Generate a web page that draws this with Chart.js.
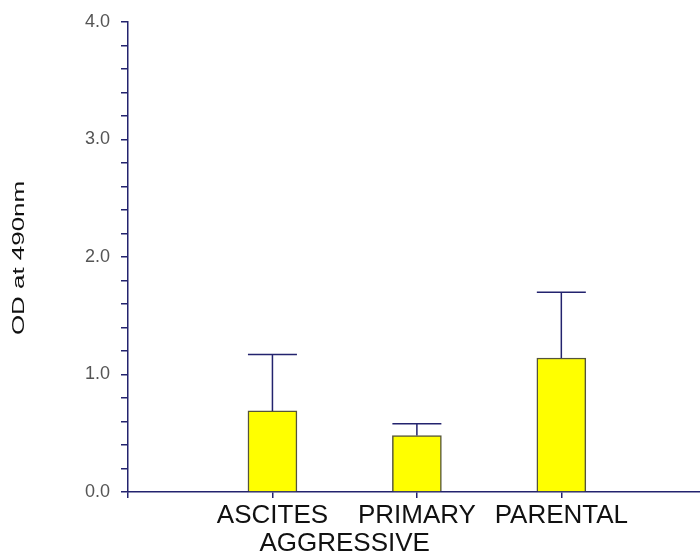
<!DOCTYPE html>
<html>
<head>
<meta charset="utf-8">
<script src="https://cdn.jsdelivr.net/npm/chart.js@4/dist/chart.umd.min.js"></script>
<style>
  html, body { margin: 0; padding: 0; background: #fff; }
  #wrap { width: 700px; height: 557px; }
</style>
</head>
<body>
<div id="wrap"><canvas id="chart" width="700" height="557"></canvas></div>
<script>
// ---- data ----
const CATEGORIES = ['ASCITES', 'PRIMARY', 'PARENTAL'];
const GROUP_LABEL = 'AGGRESSIVE';          // spans ASCITES + PRIMARY
const MEANS = [0.69, 0.48, 1.14];
const ERRORS = [0.48, 0.10, 0.56];         // upper error (SD)
const Y_TITLE = 'OD at 490nm';

const NAVY = '#23236e';
const FONT = "'Liberation Sans', Arial, sans-serif";

const points = CATEGORIES.map((c, i) => ({ x: i + 1, y: MEANS[i] }));

// upper error bars with cap as wide as the bar
const errorBars = {
    id: 'errorBars',
    afterDatasetsDraw(chart) {
        const { ctx, scales: { y } } = chart;
        const meta = chart.getDatasetMeta(0);
        ctx.save();
        ctx.strokeStyle = NAVY;
        ctx.lineWidth = 1.5;
        meta.data.forEach((bar, i) => {
            const top = y.getPixelForValue(MEANS[i] + ERRORS[i]);
            const half = bar.width / 2;
            ctx.beginPath();
            ctx.moveTo(bar.x, bar.y);
            ctx.lineTo(bar.x, top);
            ctx.moveTo(bar.x - half, top);
            ctx.lineTo(bar.x + half, top);
            ctx.stroke();
        });
        ctx.restore();
    }
};

// rotated, stretched y title and the second-line group label
const extraText = {
    id: 'extraText',
    afterDraw(chart) {
        const { ctx, scales: { x }, chartArea } = chart;
        ctx.save();
        ctx.fillStyle = '#111';
        ctx.font = '16px ' + FONT;
        ctx.textAlign = 'center';
        ctx.textBaseline = 'middle';
        ctx.translate(20, 258);
        ctx.rotate(-Math.PI / 2);
        ctx.scale(1.62, 1);
        ctx.fillText(Y_TITLE, 0, 0);
        ctx.restore();

        ctx.save();
        ctx.fillStyle = '#111';
        ctx.font = '26px ' + FONT;
        ctx.textAlign = 'center';
        ctx.textBaseline = 'alphabetic';
        ctx.fillText(GROUP_LABEL, x.getPixelForValue(1.5), chartArea.bottom + 59);
        ctx.restore();
    }
};

new Chart(document.getElementById('chart'), {
    type: 'bar',
    data: {
        datasets: [{
            data: points,
            backgroundColor: '#ffff00',
            borderColor: '#55553a',
            borderWidth: 1.5,
            barThickness: 49,
        }],
    },
    options: {
        responsive: false,
        animation: false,
        layout: { padding: { top: 21, right: 0, left: 0, bottom: 0 } },
        plugins: { legend: { display: false }, tooltip: { enabled: false } },
        scales: {
            x: {
                type: 'linear',
                offset: false,
                min: 0,
                max: 3.96,
                afterBuildTicks: s => { s.ticks = s.ticks.filter(t => Number.isInteger(t.value)); },
                afterFit: s => { s.height = 65; },
                border: { color: NAVY, width: 1.5 },
                grid: { offset: false, drawOnChartArea: false, tickLength: 6, color: NAVY, lineWidth: 1.5 },
                ticks: {
                    stepSize: 1,
                    padding: 2,
                    color: '#111',
                    maxRotation: 0,
                    autoSkip: false,
                    font: { family: FONT, size: 26 },
                    callback: v => CATEGORIES[v - 1] || '',
                },
            },
            y: {
                min: 0,
                max: 4,
                afterFit: s => { s.width = 128; },
                border: { color: NAVY, width: 1.5 },
                grid: { drawOnChartArea: false, tickLength: 7, color: NAVY, lineWidth: 1.5 },
                ticks: {
                    stepSize: 0.2,
                    padding: 11,
                    color: '#555',
                    autoSkip: false,
                    font: { family: FONT, size: 18 },
                    callback: v => Math.abs(v - Math.round(v)) < 1e-6 ? v.toFixed(1) : '',
                },
            },
        },
    },
    plugins: [errorBars, extraText],
});
</script>
</body>
</html>
